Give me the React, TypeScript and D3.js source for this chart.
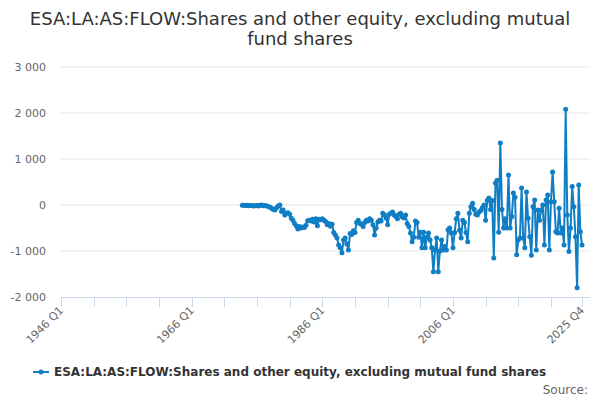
import * as d3 from "d3";
import { useEffect, useRef } from "react";

// Quarterly flows, first observation in 1973 Q4, last in 2025 Q4.
const firstQuarter = "1973 Q4";
const flowValues = [
  -5, -8, -10, -5, -15, -10, -12, -20, -15, -10, -20, -5, 0, -15, -10, -20, -30,
  -50, -70, -100, -110, -60, -20, 0, -140, -110, -220, -180, -170, -200, -290, -330,
  -400, -450, -520, -470, -500, -480, -490, -440, -340, -330, -350, -310, -370, -300, -450,
  -310, -320, -300, -330, -360, -430, -400, -460, -420, -600, -650, -720, -870, -930, -1040,
  -760, -720, -850, -980, -620, -640, -560, -600, -380, -330, -400, -420, -470, -380, -330,
  -350, -300, -330, -430, -650, -500, -370, -330, -350, -180, -210, -280, -430, -200, -180,
  -150, -220, -250, -300, -200, -180, -260, -280, -220, -400, -470, -610, -800, -700, -350,
  -380, -700, -590, -930, -590, -930, -700, -610, -760, -930, -1450, -980, -720, -1450, -1000,
  -760, -980, -900, -980, -540, -500, -610, -930, -600, -300, -180, -550, -720, -330, -380,
  -600, -800, -180, -40, 40, -100, -200, -220, -150, -120, -60, 0, -330, 100, 150,
  -100, 100, -1150, 480, 540, -590, 1350, -100, -500, -300, -500, 650, -500, -250, 260,
  170, -1080, -760, -720, 370, -720, -930, 280, -290, -690, -1090, -40, 110, -980, -110,
  -330, -110, 0, -870, 110, 220, -980, 70, 720, 70, -580, -610, -70, -610, -500,
  -870, 2080, -220, -1010, -500, 400, -40, -690, -1800, 435, -580, -870,
];
const xTickLabels = ["1946 Q1", "1966 Q1", "1986 Q1", "2006 Q1", "2025 Q4"];
const yTickValues = [-2000, -1000, 0, 1000, 2000, 3000];
const titleLines = [
  "ESA:LA:AS:FLOW:Shares and other equity, excluding mutual",
  "fund shares",
];
const seriesName =
  "ESA:LA:AS:FLOW:Shares and other equity, excluding mutual fund shares";

// category axis: every quarter from 1946 Q1 to 2025 Q4
const quarters: string[] = [];
for (let yr = 1946; yr <= 2025; yr++) {
  for (let q = 1; q <= 4; q++) quarters.push(`${yr} Q${q}`);
}

const font = "'DejaVu Sans', Verdana, sans-serif";
const blue = "#0f7ec4";

export default function App() {
  const svgRef = useRef<SVGSVGElement>(null);
  const w = 600;
  const h = 400;

  useEffect(() => {
    if (!svgRef.current) return;
    const svg = d3.select(svgRef.current);
    svg.selectAll("*").remove();

    const plotLeft = 61;
    const plotRight = 590;
    const x = d3.scalePoint<string>().domain(quarters).range([61, 582]);
    const y = d3.scaleLinear().domain([-2000, 3000]).range([297, 67]);

    const start = quarters.indexOf(firstQuarter);
    const points = flowValues.map((v, i) => ({ q: quarters[start + i], v }));

    // title
    titleLines.forEach((t, i) => {
      svg
        .append("text")
        .attr("x", w / 2)
        .attr("y", 25 + i * 20)
        .attr("text-anchor", "middle")
        .attr("font-family", font)
        .attr("font-size", 18)
        .attr("fill", "#333333")
        .text(t);
    });

    // gridlines + y labels
    const fmt = (v: number) => String(v).replace(/\B(?=(\d{3})+(?!\d))/g, " ");
    yTickValues.forEach((t) => {
      if (t !== -2000) {
        svg
          .append("line")
          .attr("x1", plotLeft)
          .attr("x2", plotRight)
          .attr("y1", y(t))
          .attr("y2", y(t))
          .attr("stroke", "#e6e6e6");
      }
      svg
        .append("text")
        .attr("x", 46)
        .attr("y", y(t) + 4)
        .attr("text-anchor", "end")
        .attr("font-family", font)
        .attr("font-size", 11)
        .attr("fill", "#666666")
        .text(fmt(t));
    });

    // x axis line, ticks every 20 quarters and at the last one
    svg
      .append("line")
      .attr("x1", plotLeft)
      .attr("x2", plotRight)
      .attr("y1", 297.5)
      .attr("y2", 297.5)
      .attr("stroke", "#ccd6eb");
    const tickCats = quarters.filter((_, i) => i % 20 === 0 && i < 310);
    tickCats.push(quarters[quarters.length - 1]);
    tickCats.forEach((c) => {
      const px = Math.round(x(c) ?? 0) + 0.5;
      svg
        .append("line")
        .attr("x1", px)
        .attr("x2", px)
        .attr("y1", 297)
        .attr("y2", 307)
        .attr("stroke", "#ccd6eb");
    });
    xTickLabels.forEach((c) => {
      svg
        .append("text")
        .attr("transform", `translate(${(x(c) ?? 0) + 3},${311}) rotate(-45)`)
        .attr("text-anchor", "end")
        .attr("font-family", font)
        .attr("font-size", 11)
        .attr("fill", "#666666")
        .text(c);
    });

    // series line + markers
    const line = d3
      .line<{ q: string; v: number }>()
      .x((d) => x(d.q) ?? 0)
      .y((d) => y(d.v));
    svg
      .append("path")
      .datum(points)
      .attr("d", line)
      .attr("fill", "none")
      .attr("stroke", blue)
      .attr("stroke-width", 2)
      .attr("stroke-linejoin", "round");
    svg
      .append("g")
      .selectAll("circle")
      .data(points)
      .enter()
      .append("circle")
      .attr("cx", (d) => x(d.q) ?? 0)
      .attr("cy", (d) => y(d.v))
      .attr("r", 2.5)
      .attr("fill", blue);

    // legend
    svg
      .append("line")
      .attr("x1", 33)
      .attr("x2", 49)
      .attr("y1", 372)
      .attr("y2", 372)
      .attr("stroke", blue)
      .attr("stroke-width", 2);
    svg.append("circle").attr("cx", 41).attr("cy", 372).attr("r", 2.5).attr("fill", blue);
    svg
      .append("text")
      .attr("x", 54)
      .attr("y", 376)
      .attr("font-family", font)
      .attr("font-size", 12)
      .attr("font-weight", "bold")
      .attr("fill", "#333333")
      .text(seriesName);

    svg
      .append("text")
      .attr("x", 588)
      .attr("y", 394)
      .attr("text-anchor", "end")
      .attr("font-family", font)
      .attr("font-size", 12)
      .attr("fill", "#666666")
      .text("Source:");
  }, []);

  return (
    <svg
      ref={svgRef}
      width={w}
      height={h}
      viewBox={`0 0 ${w} ${h}`}
      style={{ position: "absolute", left: 0, top: 0, background: "#ffffff" }}
    />
  );
}
